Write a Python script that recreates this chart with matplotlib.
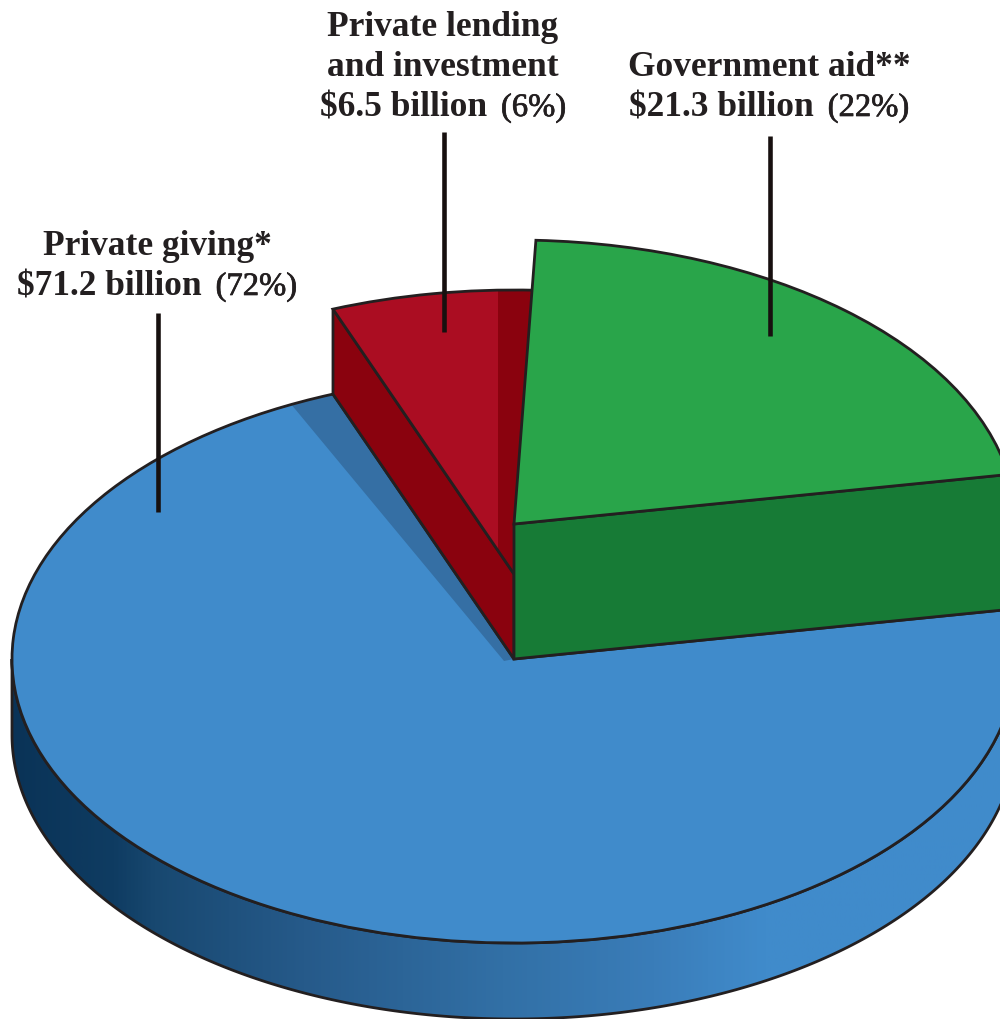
import numpy as np
import matplotlib
matplotlib.use("Agg")
import matplotlib.pyplot as plt
import matplotlib.patheffects as pe
from matplotlib.colors import LinearSegmentedColormap
from matplotlib.patches import Polygon, Rectangle, Wedge
from matplotlib.transforms import Affine2D

categories = [["Private giving*"], ["Private lending", "and investment"], ["Government aid**"]]
amounts = [71.2, 6.5, 21.3]
percents = [72, 6, 22]

BLUE, RED, GREEN = "#408bcb", "#ab0d22", "#29a54a"
BLUE_DARK, RED_DARK, GREEN_DARK = "#356fa4", "#8a020e", "#177b36"
EDGE = "#231f20"

RX, RY = 502, 284
CX = 514
# each slice sits at its own height
CY_BLUE, CY_RED, CY_GREEN = 659, 574, 524
RIM = 76
START = 87.5

fig = plt.figure(figsize=(10, 10.19), dpi=100)
ax = fig.add_axes([0, 0, 1, 1])


def ellipse_pt(cy, t):
    t = np.radians(t)
    return CX + RX * np.cos(t), cy - RY * np.sin(t)


def top(cy, a, b, **kw):
    tr = Affine2D().scale(RX, -RY).translate(CX, cy) + ax.transData
    return ax.add_patch(Wedge((0, 0), 1, a, b, transform=tr, **kw))


# slice angles come from the dollar amounts, clockwise from the top
spans = [360 * v / sum(amounts) for v in amounts]
green_a, green_b = START - spans[2], START
red_a, red_b = START, START + spans[1]
blue_a, blue_b = red_b, green_a + 360

# outer rim of the big slice with a left to right shade
ts = np.linspace(180, blue_b, 300)
upper = np.column_stack(ellipse_pt(CY_BLUE, ts))
lower = np.column_stack(ellipse_pt(CY_BLUE + RIM, ts))
rim_xy = np.vstack([upper, lower[::-1]])
shade = LinearSegmentedColormap.from_list(
    "rim",
    [(0, "#0a3357"), (0.1, "#0f3c62"), (0.14, "#184870"), (0.29, "#265a8a"),
     (0.49, "#3270a6"), (0.64, "#3a7db9"), (0.75, BLUE), (1, BLUE)],
)
rim_img = ax.imshow(np.linspace(0, 1, 500)[None, :], cmap=shade, extent=[12, 1016, 1030, 640], aspect="auto", zorder=1)
rim_clip = Polygon(rim_xy, closed=True, transform=ax.transData, fc="none", ec="none")
ax.add_patch(rim_clip)
rim_img.set_clip_path(rim_clip)
ax.add_patch(Polygon(rim_xy, closed=True, fc="none", ec=EDGE, lw=2.0, zorder=2))

# big slice: fill, shadow sliver next to the red wall, then outline
top(CY_BLUE, blue_a, blue_b, fc=BLUE, ec="none", zorder=3)
sliver_pts = [ellipse_pt(CY_BLUE, t) for t in np.linspace(blue_a, blue_a + 5.2, 12)]
ax.add_patch(Polygon(sliver_pts + [(CX - 10, CY_BLUE + 2), (CX, CY_BLUE)], closed=True,
                     fc=BLUE_DARK, ec="none", zorder=3.1))
top(CY_BLUE, blue_a, blue_b, fc="none", ec=EDGE, lw=2.0, zorder=3.2)

# red slice and its wall
p = ellipse_pt(CY_RED, red_b)
drop = CY_BLUE - CY_RED
ax.add_patch(Polygon([p, (CX, CY_RED), (CX, CY_BLUE), (p[0], p[1] + drop)], closed=True,
                     fc=RED_DARK, ec=EDGE, lw=2.0, zorder=4))
red_top = top(CY_RED, red_a, red_b, fc=RED, ec="none", zorder=4.1)
strip = Rectangle((498, 250), 60, 340, fc=RED_DARK, ec="none", zorder=4.2)
ax.add_patch(strip)
strip.set_clip_path(red_top)
top(CY_RED, red_a, red_b, fc="none", ec=EDGE, lw=2.0, zorder=4.3)

# green slice and its wall
p = ellipse_pt(CY_GREEN, green_a)
drop = CY_BLUE - CY_GREEN
ax.add_patch(Polygon([(CX, CY_GREEN), p, (p[0], p[1] + drop), (CX, CY_BLUE)], closed=True,
                     fc=GREEN_DARK, ec=EDGE, lw=2.0, zorder=5))
top(CY_GREEN, green_a, green_b, fc=GREEN, ec=EDGE, lw=2.0, zorder=5.1)

# leader lines
leaders = [(158, 313, 512), (444, 132, 332), (770, 136, 336)]
for x, y0, y1 in leaders:
    ax.plot([x, x], [y0, y1], color="#17100f", lw=3.3, solid_capstyle="butt", zorder=6)

ax.set_xlim(0, 1000)
ax.set_ylim(1019, 0)
ax.axis("off")

FS_BOLD = 25.5
FS_PCT = 23.5
renderer = fig.canvas.get_renderer()


def label_line(xc, y, parts):
    # parts are (text, weight, size, gap after) runs centred together on xc
    runs = []
    total = 0
    for s, w, fs, gap in parts:
        t = ax.text(0, y, s, family="Liberation Serif", fontsize=fs, fontweight=w, color=EDGE,
                    ha="left", va="baseline", zorder=7)
        if w == "normal":
            # thicken the regular weight a little
            t.set_path_effects([pe.withStroke(linewidth=0.5, foreground=EDGE)])
        wd = t.get_window_extent(renderer).width + gap
        runs.append((t, wd))
        total += wd
    x = xc - total / 2
    for t, wd in runs:
        t.set_x(x)
        x += wd


label_pos = [(157, 255), (443, 36), (769, 76)]
for cat, amt, pct, (xc, y) in zip(categories, amounts, percents, label_pos):
    for line in cat:
        label_line(xc, y, [(line, "bold", FS_BOLD, 0)])
        y += 40
    label_line(xc, y, [(f"${amt} billion", "bold", FS_BOLD, 14), (f"({pct}%)", "normal", FS_PCT, 0)])

fig.savefig("out.png", dpi=100)
